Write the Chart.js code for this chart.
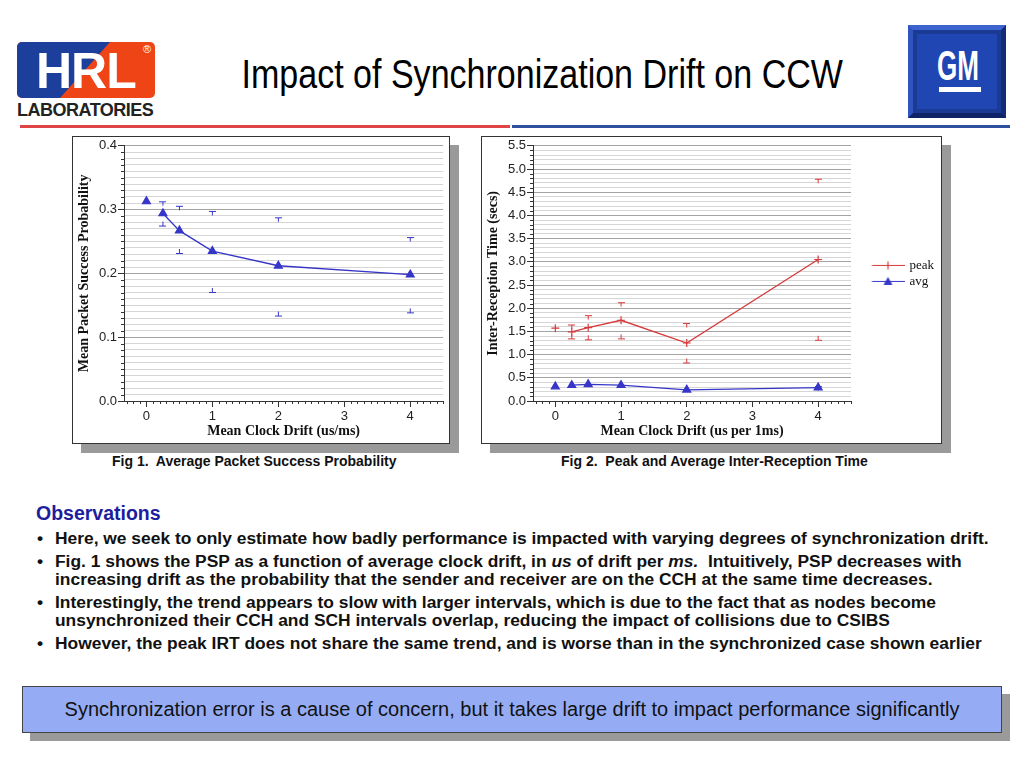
<!DOCTYPE html>
<html><head><meta charset="utf-8">
<script src="https://cdn.jsdelivr.net/npm/chart.js@4.4.0/dist/chart.umd.min.js"></script>
<style>
html,body{margin:0;padding:0;background:#fff;width:1024px;height:768px;overflow:hidden;font-family:"Liberation Sans",Arial,sans-serif;}
.abs{position:absolute;}
#title{left:182px;width:700px;top:51px;text-align:center;white-space:nowrap;font-size:41px;line-height:46px;color:#000;transform:scaleX(0.83);transform-origin:50% 50%;}
#hrl{left:17px;top:42px;width:138px;height:56px;border-radius:5px;background:#ee4416;overflow:hidden;}
#hrlBlue{left:0;top:0;width:138px;height:56px;background:#1b3f9a;clip-path:polygon(0 0,93px 0,43px 100%,0 100%);}
#hrlText{left:19px;top:4px;font-weight:bold;font-size:50px;line-height:50px;color:#fff;letter-spacing:-1px;}
#reg{left:126px;top:1px;font-size:11px;color:#fff;}
#labs{left:17px;top:100px;font-weight:bold;font-size:18px;line-height:20px;color:#222;letter-spacing:-0.5px;white-space:nowrap;}
#gm{left:908px;top:25px;width:98px;height:93px;background:#1a3a94;box-sizing:border-box;border:5px solid;border-color:#3d63cf #142c78 #0f2466 #2f54c0;}
#gmIn{left:4px;top:4px;width:80px;height:75px;background:#1f46b3;}
#gmText{left:24px;top:15px;font-weight:bold;font-size:42px;line-height:42px;color:#fff;transform:scaleX(0.62);transform-origin:0 0;}
#gmBar{left:26px;top:57px;width:42px;height:5px;background:#fff;}
#ruleR{left:20px;top:125px;width:490px;height:3px;background:#e04444;}
#ruleB{left:512px;top:125px;width:498px;height:3px;background:#2f4f9f;}
.frame{background:#fff;border:1px solid #333;box-shadow:9px 9px 0 #9a9a9a;}
.cap{font-weight:bold;font-size:14px;line-height:16px;color:#111;white-space:nowrap;}
#obs{left:36px;top:502px;font-weight:bold;font-size:19.5px;line-height:22px;color:#1d1d9e;}
.bul{left:37px;font-weight:bold;font-size:17.4px;line-height:18px;color:#111;white-space:nowrap;}
.bul span.dot{position:absolute;left:0;top:0;}
.bul div.t{position:absolute;left:18px;top:0;}
#box{left:22px;top:686px;width:980px;height:47px;box-sizing:border-box;background:#95acf5;border:1px solid #444;box-shadow:8px 8px 0 #9a9a9a;text-align:center;line-height:45px;font-size:20px;color:#111;white-space:nowrap;}
</style></head>
<body>
<div id="hrl" class="abs"><div id="hrlBlue" class="abs"></div><div id="hrlText" class="abs">HRL</div><div id="reg" class="abs">®</div></div>
<div id="labs" class="abs">LABORATORIES</div>
<div id="title" class="abs">Impact of Synchronization Drift on CCW</div>
<div id="gm" class="abs"><div id="gmIn" class="abs"></div><div id="gmText" class="abs">GM</div><div id="gmBar" class="abs"></div></div>
<div id="ruleR" class="abs"></div><div id="ruleB" class="abs"></div>

<div class="abs frame" style="left:72px;top:136px;width:376px;height:306px;"><canvas id="c1" width="376" height="306"></canvas></div>
<div class="abs frame" style="left:481px;top:136px;width:459px;height:306px;"><canvas id="c2" width="459" height="306"></canvas></div>

<div class="abs cap" style="left:112px;top:453px;">Fig 1.&nbsp; Average Packet Success Probability</div>
<div class="abs cap" style="left:561px;top:453px;">Fig 2.&nbsp; Peak and Average Inter-Reception Time</div>

<div id="obs" class="abs">Observations</div>
<div class="abs bul" style="top:529px;"><span class="dot">•</span><div class="t">Here, we seek to only estimate how badly performance is impacted with varying degrees of synchronization drift.</div></div>
<div class="abs bul" style="top:552px;"><span class="dot">•</span><div class="t">Fig. 1 shows the PSP as a function of average clock drift, in <i>us</i> of drift per <i>ms.</i>&nbsp; Intuitively, PSP decreases with<br>increasing drift as the probability that the sender and receiver are on the CCH at the same time decreases.</div></div>
<div class="abs bul" style="top:593px;"><span class="dot">•</span><div class="t">Interestingly, the trend appears to slow with larger intervals, which is due to the fact that as nodes become<br>unsynchronized their CCH and SCH intervals overlap, reducing the impact of collisions due to CSIBS</div></div>
<div class="abs bul" style="top:634px;"><span class="dot">•</span><div class="t">However, the peak IRT does not share the same trend, and is worse than in the synchronized case shown earlier</div></div>

<div id="box" class="abs">Synchronization error is a cause of concern, but it takes large drift to impact performance significantly</div>

<script>
// ---- data ----
const drift = [0, 0.25, 0.5, 1, 2, 4];
const pspAvg   = [0.313, 0.294, 0.267, 0.235, 0.212, 0.198];
const pspUpper = [null, 0.313, 0.306, 0.298, 0.288, 0.257];
const pspLower = [null, 0.275, 0.232, 0.171, 0.134, 0.139];
const irtPeak      = [1.57, 1.49, 1.58, 1.74, 1.25, 3.05];
const irtPeakUpper = [null, 1.65, 1.85, 2.13, 1.68, 4.79];
const irtPeakLower = [null, 1.35, 1.33, 1.35, 0.83, 1.32];
const irtAvg      = [0.31, 0.34, 0.36, 0.34, 0.24, 0.29];
const irtAvgUpper = [null, null, null, null, null, 0.32];
const irtAvgLower = [null, null, null, null, null, 0.26];
const xTickLabels = ['0', '1', '2', '3', '4'];
const seriesNames = ['peak', 'avg'];

// ---- helpers ----
const RED = '#d63a3a', BLUE = '#3636c8';
function pts(arr){ return drift.map((x,i)=>({x:x, y:arr[i]})).filter(p=>p.y!==null); }
function isMajor(v, step){ const r = v/step; return Math.abs(r-Math.round(r)) < 1e-6; }
function makeCap(color, upper){
  const c=document.createElement('canvas'); c.width=7; c.height=12;
  const g=c.getContext('2d'); g.strokeStyle=color; g.lineWidth=1;
  g.beginPath(); g.moveTo(0,6.5); g.lineTo(7,6.5);
  if(upper){ g.moveTo(3.5,6.5); g.lineTo(3.5,10.5);} else { g.moveTo(3.5,6.5); g.lineTo(3.5,2); }
  g.stroke(); return c;
}
function makeLegendImg(color, kind){
  const c=document.createElement('canvas'); c.width=52; c.height=11;
  const g=c.getContext('2d'); g.strokeStyle=color; g.fillStyle=color; g.lineWidth=1.2;
  g.beginPath(); g.moveTo(19.5,5.5); g.lineTo(52,5.5); g.stroke();
  const cx=35.5, cy=5.5;
  if(kind==='cross'){ g.beginPath(); g.moveTo(cx-4,cy); g.lineTo(cx+4,cy); g.moveTo(cx,cy-4); g.lineTo(cx,cy+4); g.stroke(); }
  else { g.beginPath(); g.moveTo(cx,cy-4.5); g.lineTo(cx+4.5,cy+3.5); g.lineTo(cx-4.5,cy+3.5); g.closePath(); g.fill(); }
  return c;
}
const minorTicks = {
  id:'minorTicks',
  afterDraw(chart, args, opts){
    const ctx=chart.ctx, xs=chart.scales.x, ys=chart.scales.y;
    ctx.save(); ctx.strokeStyle='#333'; ctx.lineWidth=1; ctx.beginPath();
    xs.ticks.forEach(t=>{ if(!isMajor(t.value,opts.xMajor)){ const px=Math.round(xs.getPixelForValue(t.value))+0.5; ctx.moveTo(px,xs.top); ctx.lineTo(px,xs.top+3);} });
    ys.ticks.forEach(t=>{ if(!isMajor(t.value,opts.yMajor)){ const py=Math.round(ys.getPixelForValue(t.value))+0.5; ctx.moveTo(ys.right-3,py); ctx.lineTo(ys.right,py);} });
    ctx.stroke(); ctx.restore();
  }
};
Chart.defaults.font.family = '"Liberation Sans", Arial, sans-serif';
Chart.defaults.color = '#222';

function xScale(title){
  return {
    type:'linear', min:-0.34, max:4.5,
    ticks:{ stepSize:0.1, includeBounds:false, autoSkip:false, maxRotation:0, padding:2, font:{size:13}, color:'#222',
      callback:(v)=>{ if(!isMajor(v,1)) return ''; const r=Math.round(v); return (r>=0 && r<xTickLabels.length) ? xTickLabels[r] : ''; } },
    grid:{ drawOnChartArea:false, tickLength:6, tickColor:(c)=> isMajor(c.tick.value,1) ? '#333' : 'rgba(0,0,0,0)' },
    border:{ color:'#333', width:1 },
    title:{ display:true, text:title, font:{family:'"Liberation Serif", serif', weight:'bold', size:14}, color:'#111', padding:{top:2,bottom:3} },
    afterFit:(s)=>{ s.height = 42; }
  };
}
function yScale(title, max, minor, major){
  return {
    type:'linear', min:0, max:max,
    ticks:{ stepSize:minor, includeBounds:false, autoSkip:false, padding:1, font:{size:13}, color:'#222',
      callback:(v)=> isMajor(v,major) ? v.toFixed(1) : '' },
    grid:{ color:(c)=> isMajor(c.tick.value,major) ? '#a3a3a3' : '#d6d6d6', lineWidth:1, tickLength:6,
      tickColor:(c)=> isMajor(c.tick.value,major) ? '#333' : 'rgba(0,0,0,0)' },
    border:{ color:'#333', width:1 },
    title:{ display:true, text:title, font:{family:'"Liberation Serif", serif', weight:'bold', size:14}, color:'#111', padding:{top:3,bottom:2} },
    afterFit:(s)=>{ s.width = 51; }
  };
}
const skipFirst = { borderColor:(c)=> c.p0DataIndex===0 ? 'rgba(0,0,0,0)' : undefined };

// ---- chart 1 ----
const capUpB = makeCap(BLUE,true), capLoB = makeCap(BLUE,false);
const capUpR = makeCap(RED,true), capLoR = makeCap(RED,false);
new Chart(document.getElementById('c1'), {
  type:'scatter',
  data:{ datasets:[
    { label:'avg', data:pts(pspAvg), showLine:true, borderColor:BLUE, backgroundColor:BLUE, borderWidth:1.3, pointStyle:'triangle', pointRadius:4.5, segment:skipFirst },
    { label:'upper', data:pts(pspUpper), pointStyle:capUpB, showLine:false },
    { label:'lower', data:pts(pspLower), pointStyle:capLoB, showLine:false }
  ]},
  options:{
    responsive:false, animation:false, events:[],
    layout:{ padding:{ top:8, right:5, left:0, bottom:0 } },
    plugins:{ legend:{display:false}, tooltip:{enabled:false}, minorTicks:{xMajor:1, yMajor:0.1} },
    scales:{ x:xScale('Mean Clock Drift (us/ms)'), y:yScale('Mean Packet Success Probability', 0.4, 0.01, 0.1) }
  },
  plugins:[minorTicks]
});

// ---- chart 2 ----
const legPeak = makeLegendImg(RED,'cross'), legAvg = makeLegendImg(BLUE,'tri');
new Chart(document.getElementById('c2'), {
  type:'scatter',
  data:{ datasets:[
    { label:seriesNames[0], data:pts(irtPeak), showLine:true, borderColor:RED, backgroundColor:RED, borderWidth:1.3, pointStyle:'cross', pointRadius:4, pointBorderWidth:1.2, segment:skipFirst },
    { label:seriesNames[1], data:pts(irtAvg), showLine:true, borderColor:BLUE, backgroundColor:BLUE, borderWidth:1.3, pointStyle:'triangle', pointRadius:4.5, segment:skipFirst },
    { label:'pu', data:pts(irtPeakUpper), pointStyle:capUpR, showLine:false },
    { label:'pl', data:pts(irtPeakLower), pointStyle:capLoR, showLine:false },
    { label:'au', data:pts(irtAvgUpper), pointStyle:capUpB, showLine:false },
    { label:'al', data:pts(irtAvgLower), pointStyle:capLoB, showLine:false }
  ]},
  options:{
    responsive:false, animation:false, events:[],
    layout:{ padding:{ top:8, right:0, left:0, bottom:0 } },
    plugins:{
      tooltip:{enabled:false}, minorTicks:{xMajor:1, yMajor:0.5},
      legend:{ display:true, position:'right', align:'center', fullSize:false, maxWidth:90,
        labels:{ usePointStyle:true, pointStyleWidth:49, padding:3, color:'#111',
          font:{family:'"Liberation Serif", serif', size:13},
          generateLabels:()=>[
            { text:seriesNames[0], pointStyle:legPeak, fillStyle:RED, strokeStyle:RED, lineWidth:0, hidden:false, datasetIndex:0, fontColor:'#111' },
            { text:seriesNames[1], pointStyle:legAvg, fillStyle:BLUE, strokeStyle:BLUE, lineWidth:0, hidden:false, datasetIndex:1, fontColor:'#111' }
          ] } }
    },
    scales:{ x:xScale('Mean Clock Drift (us per 1ms)'), y:yScale('Inter-Reception Time (secs)', 5.5, 0.1, 0.5) }
  },
  plugins:[minorTicks]
});
</script>
</body></html>
